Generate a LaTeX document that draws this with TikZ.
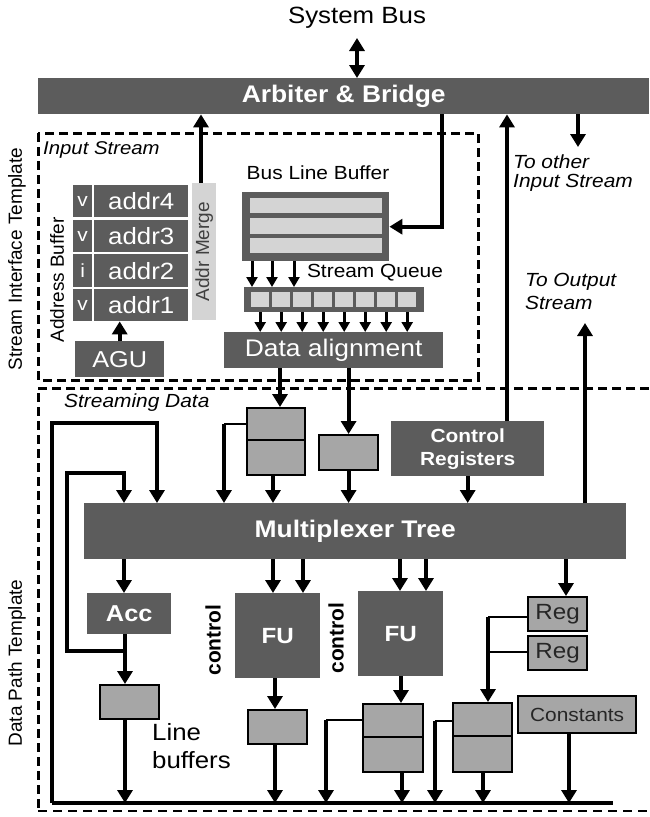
\documentclass[tikz,border=0pt]{standalone}
\usepackage{fontspec}
\setmainfont{Liberation Sans}
\usetikzlibrary{arrows.meta}
\definecolor{dk}{HTML}{5C5C5C}
\definecolor{md}{HTML}{A6A6A6}
\definecolor{lt}{HTML}{D4D4D4}
\newcommand\sx[1]{\scalebox{1.1}[1]{#1}}
\newcommand\fs[1]{\fontsize{#1}{#1}\selectfont}
\newcommand\bx[7]{\node[#1, anchor=north west, minimum width={(#5-#3)*1pt}, minimum height={(#6-#4)*1pt}] (#2) at (#3,#4) {#7};}
\tikzset{
  box/.style={fill=dk, draw=none, inner sep=0pt, text=white},
  cell/.style={fill=lt, draw=none, inner sep=0pt},
  buf/.style={fill=md, draw=black, line width=2.2pt, inner sep=0pt, text=black!85},
  mrg/.style={fill=lt, draw=none, inner sep=0pt},
  arr/.style={line width=4pt, -{Triangle[width=15pt,length=13pt]}},
  sarr/.style={line width=3pt, -{Triangle[width=11pt,length=10pt]}},
  ln/.style={line width=2.2pt},
  dsh/.style={line width=3pt, dash pattern=on 9pt off 5pt},
  lbl/.style={inner sep=0pt},
}
\begin{document}
\begin{tikzpicture}[x=1pt,y=-1pt]
\useasboundingbox (0,0) rectangle (649,817);
% ---------- top
\node[lbl, font=\fs{23.5}] (sysbus) at (357,18) {\sx{System Bus}};
\coordinate (sbtop) at (357,38);
\bx{box,font=\bfseries\fs{24}}{arb}{38}{78}{649}{114}{\sx{Arbiter \& Bridge}}
% ---------- input stream
\draw[dsh] (38,133) rectangle (478,380);
\node[lbl, anchor=west, font=\itshape\fs{18.5}] (lis) at (43,150) {\sx{Input Stream}};
\node[lbl, rotate=90, font=\fs{19}] (lsit) at (17,259) {Stream Interface Template};
\node[lbl, rotate=90, font=\fs{19}] (lab) at (57,280) {Address Buffer};
\bx{box,font=\fs{19}}{v4}{73}{185}{92}{217}{\sx{v}}
\bx{box,font=\fs{23.5}}{a4}{94}{185}{188}{217}{\sx{addr4}}
\bx{box,font=\fs{19}}{v3}{73}{220}{92}{252}{\sx{v}}
\bx{box,font=\fs{23.5}}{a3}{94}{220}{188}{252}{\sx{addr3}}
\bx{box,font=\fs{19}}{v2}{73}{254}{92}{287}{\sx{i}}
\bx{box,font=\fs{23.5}}{a2}{94}{254}{188}{287}{\sx{addr2}}
\bx{box,font=\fs{19}}{v1}{73}{289}{92}{321}{\sx{v}}
\bx{box,font=\fs{23.5}}{a1}{94}{289}{188}{321}{\sx{addr1}}
\bx{mrg}{merge}{192}{183}{216}{320}{}
\node[lbl, rotate=90, font=\fs{19}, text=black!75] (lmerge) at (merge.center) {Addr Merge};
\bx{box,font=\fs{23}}{agu}{75}{341}{164}{377}{\sx{AGU}}
\node[lbl, font=\fs{19}] (lblb) at (318,173) {\sx{Bus Line Buffer}};
\bx{box}{blb}{242}{192}{389}{261}{}
\bx{cell}{blb1}{250}{198}{382}{213}{}
\bx{cell}{blb2}{250}{218}{382}{234}{}
\bx{cell}{blb3}{250}{238}{382}{253}{}
\node[lbl, font=\fs{19}] (lsq) at (375,273) {\sx{Stream Queue}};
\bx{box}{sq}{244}{287}{424}{312}{}
\foreach \i in {0,...,7}{
  \pgfmathsetmacro\xa{251+21*\i}
  \pgfmathsetmacro\xb{\xa+18}
  \bx{cell}{sq\i}{\xa}{292}{\xb}{307}{}
}
\bx{box,font=\fs{24}}{dal}{224}{332}{443}{368}{\sx{Data alignment}}
% ---------- data path
\draw[dsh] (649,388) -- (38,388) -- (38,811);
\draw[line width=2.2pt, dash pattern=on 9pt off 6pt] (38,811) -- (649,811);
\node[lbl, anchor=west, font=\itshape\fs{19}] (lsd) at (64,403) {\sx{Streaming Data}};
\node[lbl, rotate=90, font=\fs{19}] (ldpt) at (17,663) {Data Path Template};
\bx{buf}{db1}{246}{407}{304}{474}{}
\draw[ln] (db1.west |- 0,440) -- (db1.east |- 0,440);
\bx{buf}{sb1}{318}{434}{377}{469}{}
\bx{box,align=center,font=\bfseries\fontsize{19}{23}\selectfont}{ctrl}{391}{421}{544}{476}{\sx{Control}\\\sx{Registers}}
\bx{box,font=\bfseries\fs{24}}{mux}{84}{503}{626}{559}{\sx{Multiplexer Tree}}
\bx{box,font=\bfseries\fs{23}}{acc}{87}{593}{171}{634}{\sx{Acc}}
\bx{box,font=\bfseries\fs{22}}{fu1}{235}{593}{320}{678}{\sx{FU}}
\bx{box,font=\bfseries\fs{22}}{fu2}{358}{591}{443}{676}{\sx{FU}}
\node[lbl, rotate=90, font=\bfseries\fs{21}] (lc1) at (213,640) {control};
\node[lbl, rotate=90, font=\bfseries\fs{21}] (lc2) at (336,638) {control};
\bx{buf}{lb}{99}{684}{158}{718}{}
\node[lbl, anchor=west, font=\fs{23.5}] (llb1) at (152,732) {\sx{Line}};
\node[lbl, anchor=west, font=\fs{23.5}] (llb2) at (152,760) {\sx{buffers}};
\bx{buf}{ob1}{247}{709}{306}{743}{}
\bx{buf}{db2}{362}{703}{422}{771}{}
\draw[ln] (db2.west |- 0,737) -- (db2.east |- 0,737);
\bx{buf}{db3}{452}{702}{511}{771}{}
\draw[ln] (db3.west |- 0,736) -- (db3.east |- 0,736);
\bx{buf,font=\fs{22}}{reg1}{527}{596}{586}{630}{\sx{Reg}}
\bx{buf,font=\fs{22}}{reg2}{527}{635}{586}{669}{\sx{Reg}}
\bx{buf,font=\fs{19}}{cst}{517}{695}{635}{732}{\sx{Constants}}
\node[lbl, anchor=west, font=\itshape\fs{19}] (lto1) at (513,162) {\sx{To other}};
\node[lbl, anchor=west, font=\itshape\fs{19}] (lto2) at (513,183) {\sx{Input Stream}};
\node[lbl, anchor=west, font=\itshape\fs{19}] (lto3) at (525,282) {\sx{To Output}};
\node[lbl, anchor=west, font=\itshape\fs{19}] (lto4) at (525,303) {\sx{Stream}};
% ---------- coordinates
\coordinate (oth) at (578,147);
\coordinate (outs) at (585,323);
\coordinate (busL) at (52,803);
\coordinate (busR) at (613,803);
\coordinate (lo) at (157,423);
\coordinate (j1) at (224,424);
\coordinate (j2) at (125,651);
\coordinate (j3) at (326,720);
\coordinate (j4) at (488,617);
\coordinate (j5) at (488,652);
\coordinate (j6) at (435,721);
% ---------- connectors
\draw[line width=4pt, {Triangle[width=15pt,length=13pt]}-{Triangle[width=15pt,length=13pt]}] (sbtop) -- (sbtop |- arb.north);
\draw[arr] (merge.north -| 201,0) -- (arb.south -| 201,0);
\draw[arr] (arb.south -| 442,0) |- (blb.east);
\foreach \x in {252,272,294} \draw[sarr] (blb.south -| \x,0) -- (sq.north -| \x,0);
\foreach \i in {0,...,7} \draw[sarr] (sq\i.center |- sq.south) -- (sq\i.center |- dal.north);
\draw[arr] (agu.north) -- (agu.north |- a1.south);
\draw[arr] (dal.south -| 280,0) -- (db1.north -| 280,0);
\draw[arr] (dal.south -| sb1.north) -- (sb1.north);
\draw[arr] (db1.south -| 273,0) -- (mux.north -| 273,0);
\draw[ln] (db1.west |- j1) -- (j1);
\draw[arr] (j1) -- (j1 |- mux.north);
\draw[arr] (sb1.south) -- (sb1.south |- mux.north);
\draw[arr] (ctrl.south) -- (ctrl.south |- mux.north);
\draw[arr] (ctrl.north -| 507,0) -- (arb.south -| 507,0);
\draw[arr] (arb.south -| oth) -- (oth);
\draw[arr] (mux.north -| outs) -- (outs);
\draw[line width=3.2pt] (busL) -- (busR);
\draw[arr] (busL) |- (lo) -- (lo |- mux.north);
\draw[arr] (j2) -| (67,473) -| (mux.north -| 124,0);
\draw[arr] (mux.south -| 124,0) -- (acc.north -| 124,0);
\draw[arr] (acc.south -| 125,0) -- (lb.north -| 125,0);
\draw[arr] (lb.south -| 125,0) -- (busL -| 125,0);
\foreach \x in {273,303} \draw[arr] (mux.south -| \x,0) -- (fu1.north -| \x,0);
\foreach \x in {400,426} \draw[arr] (mux.south -| \x,0) -- (fu2.north -| \x,0);
\draw[arr] (mux.south -| 566,0) -- (reg1.north -| 566,0);
\draw[arr] (fu1.south -| 275,0) -- (ob1.north -| 275,0);
\draw[arr] (ob1.south -| 275,0) -- (busL -| 275,0);
\draw[arr] (fu2.south -| 401,0) -- (db2.north -| 401,0);
\draw[arr] (db2.south -| 402,0) -- (busL -| 402,0);
\draw[ln] (db2.west |- j3) -- (j3);
\draw[arr] (j3) -- (j3 |- busL);
\draw[ln] (reg1.west |- j4) -- (j4);
\draw[ln] (reg2.west |- j5) -- (j5);
\draw[arr] (j4) -- (j4 |- db3.north);
\draw[arr] (db3.south -| 483,0) -- (busL -| 483,0);
\draw[ln] (db3.west |- j6) -- (j6);
\draw[arr] (j6) -- (j6 |- busL);
\draw[arr] (cst.south -| 569,0) -- (busL -| 569,0);
\end{tikzpicture}
\end{document}
